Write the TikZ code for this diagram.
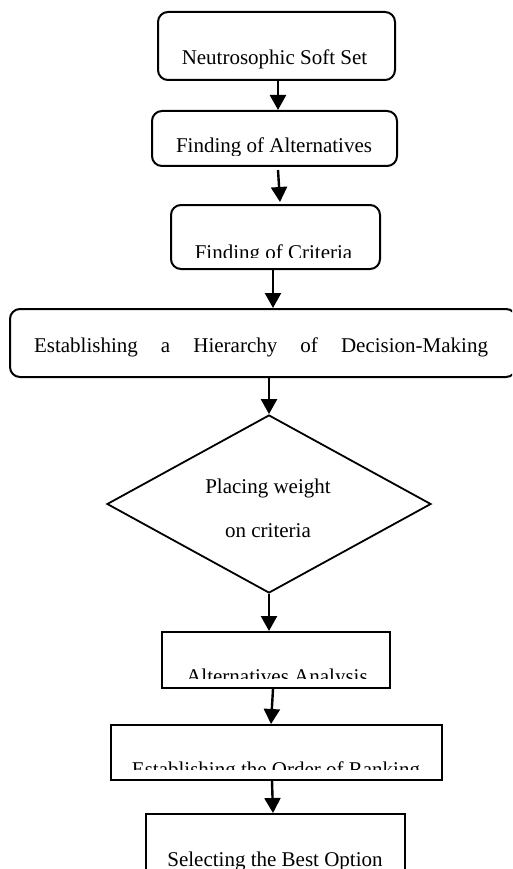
\documentclass[tikz,border=0pt]{standalone}
\usepackage{fontspec}
\setmainfont{Liberation Serif}
\usetikzlibrary{shapes.geometric,arrows.meta,calc}
\tikzset{
  rbox/.style={draw, line width=2pt, rounded corners=10pt, inner sep=0pt},
  sbox/.style={draw, line width=2pt, inner sep=0pt},
  dia/.style={draw, line width=1.8pt, diamond, inner sep=0pt},
  lbl/.style={anchor=base, inner sep=0pt, font=\fontsize{21}{25}\selectfont},
  arr/.style={line width=2.4pt, -{Triangle[length=15pt,width=16pt]}}
}
\begin{document}
\begin{tikzpicture}[x=1pt,y=-1pt]
\useasboundingbox (0,0) rectangle (512,869);
\clip (0,0) rectangle (512,869);
% boxes
\node[rbox, minimum width=237pt, minimum height=68pt] (b1) at (276.5,46) {};
\node[rbox, minimum width=245pt, minimum height=55pt] (b2) at (274.5,138.5) {};
\node[rbox, minimum width=209pt, minimum height=64pt] (b3) at (275.5,237) {};
\node[rbox, minimum width=506pt, minimum height=68pt] (b4) at (263,343) {};
\node[dia, minimum width=324pt, minimum height=178pt] (d1) at (269,504) {};
\node[sbox, minimum width=228pt, minimum height=56pt] (b5) at (276,660) {};
\node[sbox, minimum width=331pt, minimum height=55pt] (b6) at (276.5,752.5) {};
\node[sbox, minimum width=259pt, minimum height=90pt] (b7) at (275.5,859) {};
% labels
\node[lbl] (t1) at (274.5,65) {Neutrosophic Soft Set};
\begin{scope}
\clip (152,111) rectangle (397,156);
\node[lbl] (t2) at (274,153) {Finding of Alternatives};
\end{scope}
\begin{scope}
\clip (171,205) rectangle (380,257);
\node[lbl] (t3) at (273.5,259) {Finding of Criteria};
\end{scope}
\node[lbl] (t4) at (261,352) {\makebox[454pt][s]{Establishing\hfill a\hfill Hierarchy\hfill of\hfill Decision-Making}};
\node[lbl] (t5a) at (268,493) {Placing weight};
\node[lbl] (t5b) at (268,537) {on criteria};
\begin{scope}
\clip (162,632) rectangle (390,678);
\node[lbl] (t6) at (277,683) {Alternatives Analysis};
\end{scope}
\begin{scope}
\clip (111,725) rectangle (442,769);
\node[lbl] (t7) at (276,776) {Establishing the Order of Ranking};
\end{scope}
\node[lbl] (t8) at (275,866) {Selecting the Best Option};
% connectors
\draw[arr] ($(b1.south)+(1.5,0)$) -- ($(b2.north)+(3.5,0)$);
\draw[arr] ($(b2.south)+(3.5,3)$) -- ($(b3.north)+(4.5,-2)$);
\draw[arr] ($(b3.south)+(-2.5,0)$) -- ($(b4.north)+(10,0)$);
\draw[arr] ($(b4.south)+(6,0)$) -- (d1.north);
\draw[arr] (d1.south) -- ($(b5.north)+(-7,0)$);
\draw[arr] ($(b5.south)+(-3,0)$) -- ($(b6.north)+(-5.5,0)$);
\draw[arr] ($(b6.south)+(-4.5,0)$) -- ($(b7.north)+(-2.5,0)$);
\end{tikzpicture}
\end{document}
